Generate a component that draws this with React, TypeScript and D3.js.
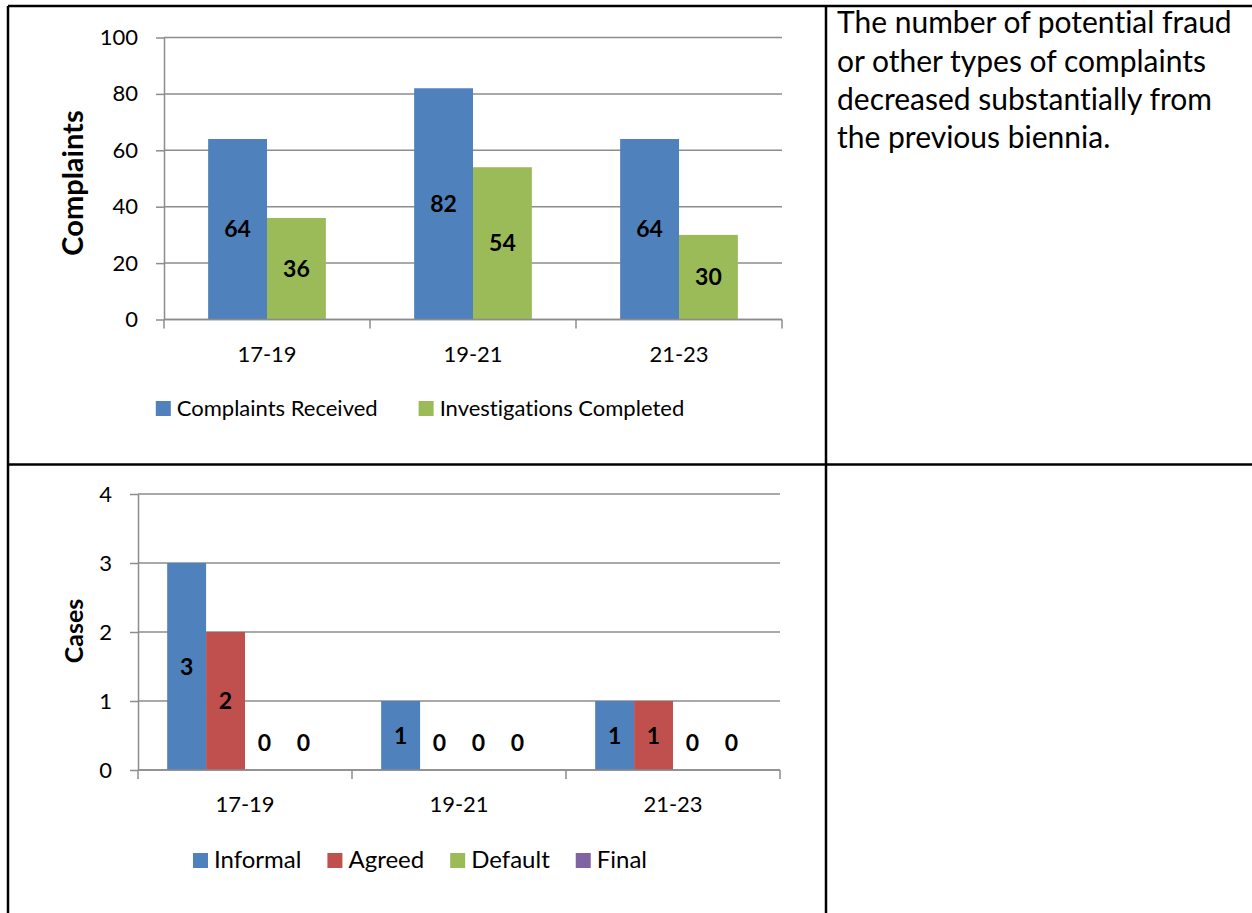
import React, { useEffect, useRef } from "react";
import * as d3 from "d3";

const periods = ["17-19", "19-21", "21-23"];

const complaintSeries = ["Complaints Received", "Investigations Completed"];
const complaintsReceived = [64, 82, 64];
const investigationsCompleted = [36, 54, 30];
const complaintTicks = [0, 20, 40, 60, 80, 100];

const caseSeries = ["Informal", "Agreed", "Default", "Final"];
const informalCases = [3, 1, 1];
const agreedCases = [2, 0, 1];
const defaultCases = [0, 0, 0];
const finalCases = [0, 0, 0];
const caseTicks = [0, 1, 2, 3, 4];

const noteLines = [
  "The number of potential fraud",
  "or other types of complaints",
  "decreased substantially from",
  "the previous biennia.",
];

const FONT = "Lato, 'Open Sans', sans-serif";
const GRID = "#8c8c8c";

const drawChart = (svg, cfg) => {
  const g = svg.append("g");
  const { x0, x1, top, bottom, series, ticks } = cfg;

  const x = d3.scaleBand().domain(periods).range([x0, x1]).padding(0);
  const y = d3
    .scaleLinear()
    .domain([0, d3.max(ticks)])
    .range([bottom, top]);

  // bars are 1/(n+1.5) of a category slot (Excel gap width 150%)
  const n = series.length;
  const barW = x.bandwidth() / (n + 1.5);
  const inner = d3
    .scaleBand()
    .domain(series.map((s) => s.name))
    .range([0, barW * n]);
  const offset = (x.bandwidth() - barW * n) / 2;

  // gridlines
  g.append("g")
    .selectAll("line")
    .data(ticks)
    .enter()
    .append("line")
    .attr("x1", x0)
    .attr("x2", x1)
    .attr("y1", (d) => y(d))
    .attr("y2", (d) => y(d))
    .attr("stroke", GRID)
    .attr("stroke-width", 1.5);

  // bars
  series.forEach((s) => {
    g.append("g")
      .selectAll("rect")
      .data(s.values)
      .enter()
      .append("rect")
      .attr("x", (d, i) => x(periods[i]) + offset + inner(s.name))
      .attr("y", (d) => y(d))
      .attr("width", inner.bandwidth())
      .attr("height", (d) => y(0) - y(d))
      .attr("fill", s.color);
  });

  // y axis
  const yAxis = g
    .append("g")
    .attr("transform", `translate(${x0},0)`)
    .call(
      d3
        .axisLeft(y)
        .tickValues(ticks)
        .tickFormat(d3.format("d"))
        .tickSize(8)
        .tickSizeOuter(0)
        .tickPadding(18)
    );
  yAxis.select(".domain").attr("stroke", GRID).attr("stroke-width", 1.5);
  yAxis.selectAll(".tick line").attr("stroke", GRID).attr("stroke-width", 1.5);
  yAxis
    .selectAll(".tick text")
    .attr("font-family", FONT)
    .attr("font-size", 22)
    .attr("fill", "#000");

  // x axis
  g.append("line")
    .attr("x1", x0)
    .attr("x2", x1)
    .attr("y1", y(0))
    .attr("y2", y(0))
    .attr("stroke", GRID)
    .attr("stroke-width", 1.5);
  const bounds = periods.map((p) => x(p)).concat([x1]);
  g.append("g")
    .selectAll("line")
    .data(bounds)
    .enter()
    .append("line")
    .attr("x1", (d) => d)
    .attr("x2", (d) => d)
    .attr("y1", y(0))
    .attr("y2", y(0) + 9)
    .attr("stroke", GRID)
    .attr("stroke-width", 1.5);
  g.append("g")
    .selectAll("text")
    .data(periods)
    .enter()
    .append("text")
    .attr("x", (d) => x(d) + x.bandwidth() / 2)
    .attr("y", y(0) + 42)
    .attr("text-anchor", "middle")
    .attr("font-family", FONT)
    .attr("font-size", 22)
    .text((d) => d);

  // data labels
  series.forEach((s) => {
    g.append("g")
      .selectAll("text")
      .data(s.values)
      .enter()
      .append("text")
      .attr("x", (d, i) => x(periods[i]) + offset + inner(s.name) + inner.bandwidth() / 2)
      .attr("y", (d) => (d > 0 ? (y(d) + y(0)) / 2 : y(0) - 27) + 8)
      .attr("text-anchor", "middle")
      .attr("font-family", FONT)
      .attr("font-weight", "bold")
      .attr("font-size", 23)
      .text((d) => d);
  });

  // axis title
  g.append("text")
    .attr("transform", `translate(83,${cfg.titleY}) rotate(-90)`)
    .attr("text-anchor", "middle")
    .attr("font-family", FONT)
    .attr("font-weight", "bold")
    .attr("font-size", cfg.titleSize)
    .text(cfg.title);

  // legend, centred on the chart area
  const legend = g.append("g");
  let cursor = 0;
  series.forEach((s) => {
    const item = legend.append("g").attr("transform", `translate(${cursor},0)`);
    item
      .append("rect")
      .attr("x", 0)
      .attr("y", -15)
      .attr("width", 15)
      .attr("height", 15)
      .attr("fill", s.color);
    const t = item
      .append("text")
      .attr("x", 21)
      .attr("y", 0)
      .attr("font-family", FONT)
      .attr("font-size", cfg.legendSize)
      .text(s.name);
    cursor += 21 + t.node().getComputedTextLength() + cfg.legendGap;
  });
  const total = cursor - cfg.legendGap;
  legend.attr("transform", `translate(${420 - total / 2},${cfg.legendY})`);
};

const App = () => {
  const ref = useRef();

  useEffect(() => {
    const svg = d3.select(ref.current);
    svg.selectAll("*").remove();

    drawChart(svg, {
      x0: 164,
      x1: 782,
      top: 37.5,
      bottom: 319.5,
      ticks: complaintTicks,
      series: [
        { name: complaintSeries[0], color: "#4f81bd", values: complaintsReceived },
        { name: complaintSeries[1], color: "#9bbb59", values: investigationsCompleted },
      ],
      title: "Complaints",
      titleSize: 29,
      titleY: 183,
      legendY: 416,
      legendGap: 41,
      legendSize: 22,
    });

    drawChart(svg, {
      x0: 138,
      x1: 780,
      top: 494,
      bottom: 770,
      ticks: caseTicks,
      series: [
        { name: caseSeries[0], color: "#4f81bd", values: informalCases },
        { name: caseSeries[1], color: "#c0504d", values: agreedCases },
        { name: caseSeries[2], color: "#9bbb59", values: defaultCases },
        { name: caseSeries[3], color: "#8064a2", values: finalCases },
      ],
      title: "Cases",
      titleSize: 25,
      titleY: 631,
      legendY: 868,
      legendGap: 26,
      legendSize: 24,
    });

    // note in the right-hand cell
    svg
      .append("g")
      .selectAll("text")
      .data(noteLines)
      .enter()
      .append("text")
      .attr("x", 837)
      .attr("y", (d, i) => 33.3 + i * 38.3)
      .attr("font-family", FONT)
      .attr("font-size", 30)
      .text((d) => d);

    // table borders
    const borders = [
      [8, 6, 1252, 6],
      [8, 6, 8, 913],
      [826, 6, 826, 913],
      [8, 464.5, 1252, 464.5],
    ];
    svg
      .append("g")
      .selectAll("line")
      .data(borders)
      .enter()
      .append("line")
      .attr("x1", (d) => d[0])
      .attr("y1", (d) => d[1])
      .attr("x2", (d) => d[2])
      .attr("y2", (d) => d[3])
      .attr("stroke", "#000")
      .attr("stroke-width", 2.5);
  }, []);

  return (
    <svg
      ref={ref}
      width={1252}
      height={913}
      style={{
        position: "absolute",
        left: 0,
        top: 0,
        display: "block",
        background: "#fff",
        fontVariantLigatures: "none",
      }}
    ></svg>
  );
};

export default App;
